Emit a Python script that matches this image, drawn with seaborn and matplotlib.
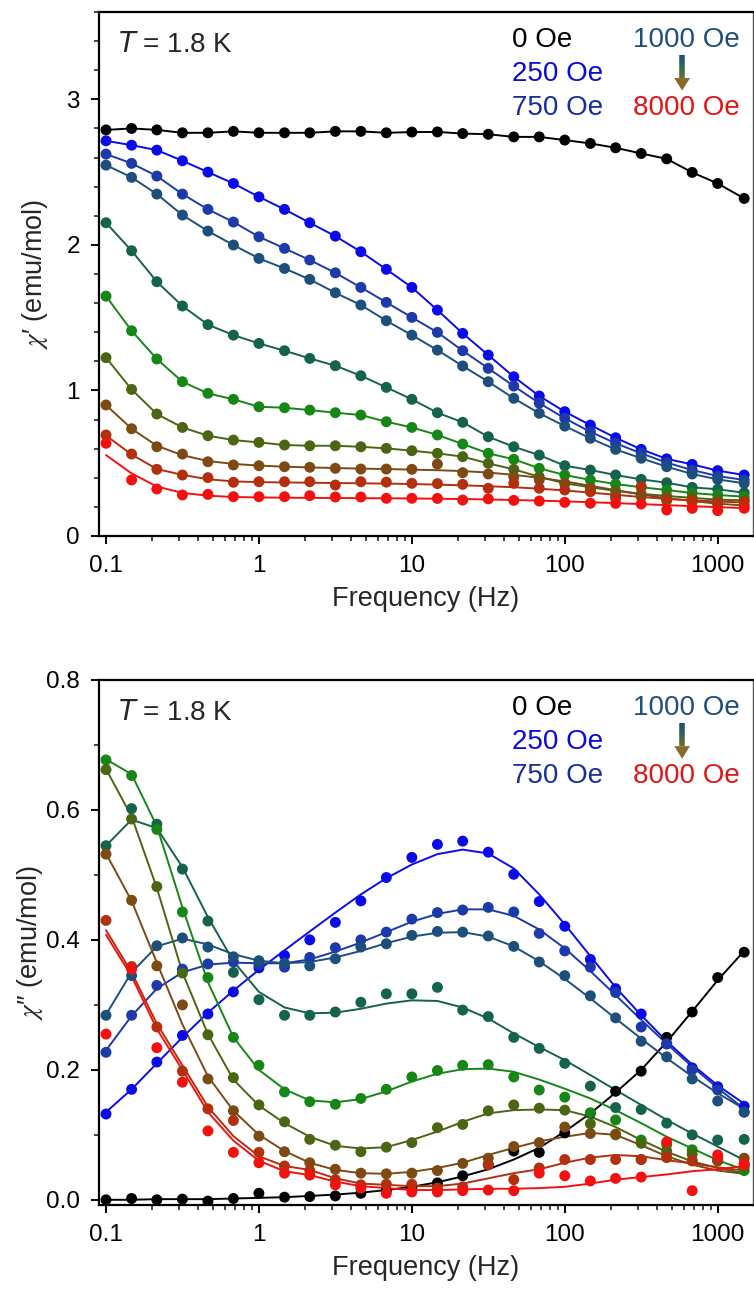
import numpy as np
import pandas as pd
import matplotlib
matplotlib.use("Agg")
import matplotlib.pyplot as plt
import seaborn as sns
from matplotlib.ticker import FixedLocator, MultipleLocator, LogLocator, NullFormatter, FixedFormatter, FormatStrFormatter
from matplotlib.collections import LineCollection
from matplotlib.patches import Polygon
from matplotlib.colors import LinearSegmentedColormap

# ---------------- data ----------------
freq = [0.1, 0.147, 0.215, 0.316, 0.464, 0.681, 1.0, 1.47, 2.15, 3.16, 4.64, 6.81, 10, 14.7,
        21.5, 31.6, 46.4, 68.1, 100, 147, 215, 316, 464, 681, 1000, 1490]

fields = ["0 Oe", "250 Oe", "750 Oe", "1000 Oe", "2000 Oe", "3000 Oe", "4000 Oe",
          "5000 Oe", "6000 Oe", "8000 Oe"]
colors = ["#000000", "#0b0bea", "#1c3aa9", "#1d4f7c", "#15624e", "#168716", "#4b6612",
          "#7d4a14", "#b3300f", "#f51010"]

# chi' (emu/mol) -- measured points
re_0 = [2.79, 2.80, 2.79, 2.77, 2.77, 2.78, 2.77, 2.77, 2.77, 2.78, 2.78, 2.77, 2.775, 2.776, 2.765, 2.76, 2.742, 2.742, 2.72, 2.697, 2.667, 2.628, 2.591, 2.498, 2.422, 2.319]
re_250 = [2.715, 2.685, 2.651, 2.578, 2.50, 2.422, 2.33, 2.244, 2.152, 2.06, 1.953, 1.832, 1.708, 1.552, 1.392, 1.243, 1.094, 0.962, 0.854, 0.762, 0.675, 0.595, 0.530, 0.492, 0.449, 0.419]
re_750 = [2.624, 2.56, 2.473, 2.349, 2.244, 2.157, 2.056, 1.976, 1.896, 1.808, 1.708, 1.605, 1.502, 1.399, 1.273, 1.152, 1.03, 0.913, 0.808, 0.716, 0.637, 0.568, 0.504, 0.453, 0.412, 0.385]
re_1000 = [2.548, 2.464, 2.349, 2.205, 2.095, 1.999, 1.907, 1.838, 1.763, 1.671, 1.587, 1.479, 1.38, 1.277, 1.168, 1.06, 0.946, 0.843, 0.755, 0.671, 0.595, 0.534, 0.476, 0.426, 0.389, 0.362]
re_2000 = [2.152, 1.96, 1.747, 1.58, 1.452, 1.38, 1.323, 1.273, 1.22, 1.17, 1.101, 1.021, 0.939, 0.847, 0.781, 0.682, 0.613, 0.556, 0.483, 0.453, 0.419, 0.389, 0.366, 0.334, 0.321, 0.297]
re_3000 = [1.648, 1.41, 1.216, 1.06, 0.98, 0.939, 0.888, 0.881, 0.865, 0.847, 0.831, 0.785, 0.746, 0.694, 0.632, 0.568, 0.527, 0.465, 0.419, 0.385, 0.357, 0.335, 0.316, 0.295, 0.282, 0.27]
re_4000 = [1.225, 1.007, 0.838, 0.746, 0.689, 0.659, 0.643, 0.625, 0.62, 0.62, 0.613, 0.602, 0.586, 0.568, 0.545, 0.499, 0.458, 0.407, 0.362, 0.335, 0.31, 0.29, 0.275, 0.262, 0.25, 0.245]
re_5000 = [0.90, 0.737, 0.613, 0.563, 0.51, 0.488, 0.483, 0.476, 0.472, 0.465, 0.46, 0.46, 0.458, 0.494, 0.435, 0.426, 0.407, 0.385, 0.362, 0.316, 0.282, 0.27, 0.245, 0.235, 0.22, 0.21]
re_6000 = [0.694, 0.563, 0.458, 0.419, 0.401, 0.369, 0.373, 0.373, 0.373, 0.35, 0.373, 0.37, 0.362, 0.36, 0.355, 0.328, 0.362, 0.328, 0.316, 0.304, 0.26, 0.339, 0.25, 0.247, 0.225, 0.236]
re_8000 = [0.637, 0.385, 0.323, 0.282, 0.286, 0.27, 0.27, 0.27, 0.277, 0.268, 0.268, 0.259, 0.259, 0.258, 0.247, 0.255, 0.245, 0.24, 0.231, 0.225, 0.224, 0.22, 0.179, 0.19, 0.174, 0.19]

# chi' fitted curves (where they differ from the points)
fit_re_5000 = [0.9, 0.737, 0.62, 0.555, 0.515, 0.495, 0.484, 0.476, 0.471, 0.467, 0.463, 0.46, 0.456, 0.452, 0.446, 0.436, 0.42, 0.4, 0.375, 0.345, 0.315, 0.285, 0.26, 0.24, 0.222, 0.21]
fit_re_6000 = [0.69, 0.56, 0.46, 0.42, 0.39, 0.375, 0.37, 0.368, 0.366, 0.364, 0.362, 0.36, 0.357, 0.353, 0.348, 0.342, 0.335, 0.325, 0.313, 0.298, 0.283, 0.268, 0.255, 0.245, 0.237, 0.23]
fit_re_8000 = [0.556, 0.43, 0.34, 0.296, 0.277, 0.268, 0.265, 0.263, 0.262, 0.261, 0.26, 0.259, 0.258, 0.256, 0.254, 0.251, 0.247, 0.243, 0.238, 0.232, 0.226, 0.219, 0.212, 0.205, 0.198, 0.192]

# chi'' (emu/mol) -- measured points
im_0 = [0.0, 0.002, 0.0, 0.001, -0.002, 0.002, 0.010, 0.004, 0.005, 0.006, 0.010, 0.014, 0.020, 0.026, 0.037, 0.054, 0.075, 0.073, 0.103, 0.133, 0.167, 0.198, 0.25, 0.289, 0.342, 0.381]
im_250 = [0.132, 0.170, 0.212, 0.253, 0.286, 0.320, 0.357, 0.376, 0.40, 0.427, 0.46, 0.496, 0.527, 0.547, 0.552, 0.535, 0.501, 0.459, 0.421, 0.370, 0.325, 0.286, 0.24, 0.203, 0.174, 0.144]
im_750 = [0.227, 0.284, 0.33, 0.355, 0.363, 0.366, 0.362, 0.358, 0.373, 0.388, 0.40, 0.412, 0.432, 0.442, 0.446, 0.45, 0.443, 0.41, 0.383, 0.358, 0.319, 0.266, 0.24, 0.20, 0.169, 0.135]
im_1000 = [0.284, 0.345, 0.391, 0.403, 0.389, 0.374, 0.368, 0.364, 0.36, 0.371, 0.389, 0.394, 0.407, 0.413, 0.412, 0.406, 0.39, 0.366, 0.345, 0.314, 0.28, 0.244, 0.22, 0.186, 0.152, 0.135]
im_2000 = [0.545, 0.602, 0.578, 0.509, 0.429, 0.35, 0.308, 0.284, 0.284, 0.289, 0.304, 0.317, 0.317, 0.327, 0.292, 0.282, 0.25, 0.233, 0.21, 0.175, 0.142, 0.139, 0.118, 0.10, 0.092, 0.093]
im_3000 = [0.677, 0.653, 0.57, 0.443, 0.342, 0.25, 0.207, 0.166, 0.151, 0.147, 0.156, 0.17, 0.189, 0.199, 0.207, 0.208, 0.189, 0.169, 0.158, 0.134, 0.123, 0.092, 0.085, 0.077, 0.062, 0.045]
im_4000 = [0.662, 0.586, 0.482, 0.349, 0.254, 0.188, 0.146, 0.12, 0.093, 0.084, 0.074, 0.081, 0.088, 0.111, 0.116, 0.137, 0.146, 0.141, 0.138, 0.117, 0.1, 0.087, 0.075, 0.07, 0.06, 0.05]
im_5000 = [0.532, 0.461, 0.36, 0.30, 0.186, 0.137, 0.098, 0.074, 0.057, 0.047, 0.041, 0.04, 0.041, 0.045, 0.056, 0.064, 0.082, 0.088, 0.112, 0.102, 0.101, 0.062, 0.065, 0.06, 0.06, 0.064]
im_6000 = [0.43, 0.359, 0.266, 0.198, 0.14, 0.122, 0.073, 0.052, 0.045, 0.031, 0.023, 0.024, 0.024, 0.018, 0.02, 0.054, 0.031, 0.049, 0.062, 0.062, 0.062, 0.062, 0.066, 0.06, 0.063, 0.056]
im_8000 = [0.255, 0.355, 0.234, 0.181, 0.106, 0.073, 0.057, 0.041, 0.038, 0.023, 0.018, 0.01, 0.012, 0.012, 0.014, 0.015, 0.014, 0.041, 0.037, 0.029, 0.033, 0.035, 0.089, 0.014, 0.069, 0.054]

# chi'' fitted curves
fit_im_0 = [0.0, 0.0, 0.001, 0.001, 0.001, 0.002, 0.003, 0.004, 0.006, 0.008, 0.011, 0.015, 0.020, 0.027, 0.036, 0.047, 0.062, 0.08, 0.105, 0.133, 0.165, 0.2, 0.243, 0.29, 0.338, 0.383]
fit_im_250 = [0.135, 0.17, 0.21, 0.25, 0.288, 0.322, 0.354, 0.384, 0.413, 0.442, 0.47, 0.495, 0.516, 0.532, 0.539, 0.533, 0.51, 0.47, 0.424, 0.375, 0.327, 0.284, 0.244, 0.208, 0.176, 0.148]
fit_im_750 = [0.23, 0.283, 0.325, 0.35, 0.362, 0.365, 0.364, 0.364, 0.37, 0.382, 0.396, 0.412, 0.428, 0.44, 0.447, 0.447, 0.437, 0.416, 0.387, 0.352, 0.315, 0.277, 0.24, 0.205, 0.172, 0.14]
fit_im_1000 = [0.285, 0.35, 0.39, 0.402, 0.393, 0.378, 0.368, 0.364, 0.366, 0.373, 0.383, 0.395, 0.405, 0.411, 0.412, 0.405, 0.39, 0.367, 0.34, 0.31, 0.279, 0.248, 0.218, 0.19, 0.164, 0.14]
fit_im_2000 = [0.545, 0.585, 0.572, 0.512, 0.435, 0.367, 0.32, 0.296, 0.287, 0.288, 0.294, 0.302, 0.307, 0.306, 0.296, 0.279, 0.256, 0.235, 0.215, 0.192, 0.169, 0.146, 0.123, 0.102, 0.082, 0.061]
fit_im_3000 = [0.678, 0.655, 0.575, 0.45, 0.335, 0.25, 0.2, 0.17, 0.153, 0.15, 0.155, 0.167, 0.182, 0.194, 0.201, 0.202, 0.197, 0.185, 0.171, 0.156, 0.138, 0.118, 0.097, 0.079, 0.061, 0.046]
fit_im_4000 = [0.663, 0.59, 0.48, 0.35, 0.255, 0.185, 0.145, 0.118, 0.097, 0.083, 0.079, 0.081, 0.092, 0.105, 0.12, 0.133, 0.138, 0.139, 0.138, 0.128, 0.112, 0.092, 0.074, 0.059, 0.049, 0.041]
fit_im_5000 = [0.533, 0.46, 0.365, 0.27, 0.19, 0.137, 0.1, 0.075, 0.057, 0.046, 0.041, 0.04, 0.043, 0.049, 0.057, 0.069, 0.08, 0.09, 0.097, 0.103, 0.1, 0.084, 0.067, 0.054, 0.045, 0.04]
fit_im_6000 = [0.415, 0.35, 0.271, 0.207, 0.143, 0.098, 0.067, 0.052, 0.046, 0.033, 0.025, 0.023, 0.021, 0.021, 0.025, 0.033, 0.041, 0.047, 0.057, 0.065, 0.069, 0.067, 0.061, 0.056, 0.05, 0.045]
fit_im_8000 = [0.408, 0.344, 0.263, 0.2, 0.135, 0.091, 0.06, 0.044, 0.038, 0.028, 0.021, 0.018, 0.015, 0.015, 0.016, 0.017, 0.017, 0.018, 0.02, 0.025, 0.031, 0.035, 0.039, 0.044, 0.047, 0.052]

xtick_vals = [0.1, 1, 10, 100, 1000]
xtick_labels = ["0.1", "1", "10", "100", "1000"]

re_pts = [re_0, re_250, re_750, re_1000, re_2000, re_3000, re_4000, re_5000, re_6000, re_8000]
re_fit = [re_0, re_250, re_750, re_1000, re_2000, re_3000, re_4000, fit_re_5000, fit_re_6000, fit_re_8000]
im_pts = [im_0, im_250, im_750, im_1000, im_2000, im_3000, im_4000, im_5000, im_6000, im_8000]
im_fit = [fit_im_0, fit_im_250, fit_im_750, fit_im_1000, fit_im_2000, fit_im_3000, fit_im_4000,
          fit_im_5000, fit_im_6000, fit_im_8000]


def long_frame(pts, fits):
    rows = []
    for name, p, q in zip(fields, pts, fits):
        for f, a, b in zip(freq, p, q):
            rows.append((name, f, a, b))
    return pd.DataFrame(rows, columns=["field", "freq", "val", "fit"])


df_re = long_frame(re_pts, re_fit)
df_im = long_frame(im_pts, im_fit)

# ---------------- style ----------------
sns.set_theme(style="ticks")
plt.rcParams["font.family"] = ["Liberation Sans", "DejaVu Sans"]
plt.rcParams["mathtext.fontset"] = "stix"
plt.rcParams["axes.linewidth"] = 1.6

palette = dict(zip(fields, colors))

W, H = 754, 1291
fig = plt.figure(figsize=(W / 100, H / 100), dpi=100)
ax1 = fig.add_axes([99.3 / W, 1 - 536 / H, 653.4 / W, 524 / H])
ax2 = fig.add_axes([99.3 / W, 1 - 1205 / H, 653.4 / W, 525 / H])

for ax, df in ((ax1, df_re), (ax2, df_im)):
    ax.set_xscale("log")
    sns.lineplot(data=df, x="freq", y="fit", hue="field", hue_order=fields, palette=palette,
                 estimator=None, sort=True, linewidth=1.4, legend=False, ax=ax, zorder=2)
    sns.scatterplot(data=df, x="freq", y="val", hue="field", hue_order=fields, palette=palette,
                    s=62, edgecolor="none", linewidth=0, legend=False, ax=ax, zorder=3)
    ax.set_xlim(0.0904, 1694)
    ax.xaxis.set_major_locator(FixedLocator(xtick_vals))
    ax.xaxis.set_major_formatter(FixedFormatter(xtick_labels))
    ax.xaxis.set_minor_locator(LogLocator(base=10, subs=np.arange(2, 10), numticks=20))
    ax.xaxis.set_minor_formatter(NullFormatter())
    ax.tick_params(which="major", direction="out", length=5.5, width=1.4, labelsize=17.5,
                   pad=8.5, top=False, right=False, colors="black")
    ax.tick_params(which="minor", direction="out", length=3.5, width=1.2, top=False, right=False)
    ax.set_xlabel("Frequency (Hz)", fontsize=19.5, labelpad=6)
    for sp in ax.spines.values():
        sp.set_color("black")
        sp.set_linewidth(1.6)
    ax.spines["right"].set_linewidth(1.0)
    ax.spines["right"].set_color("#555555")

ax1.set_ylim(0, 3.6)
ax1.yaxis.set_major_locator(MultipleLocator(1))
ax1.yaxis.set_minor_locator(MultipleLocator(0.2))
ax1.yaxis.set_major_formatter(FormatStrFormatter("%g"))
ax1.set_ylabel("$\\chi$\u2032 (emu/mol)", fontsize=19.5)
ax1.yaxis.set_label_coords(-0.075, 0.5)

ax2.set_ylim(-0.008, 0.8)
ax2.yaxis.set_major_locator(FixedLocator([0.0, 0.2, 0.4, 0.6, 0.8]))
ax2.yaxis.set_minor_locator(FixedLocator([0.1, 0.3, 0.5, 0.7]))
ax2.yaxis.set_major_formatter(FormatStrFormatter("%.1f"))
ax2.set_ylabel("$\\chi$\u2033 (emu/mol)", fontsize=19.5)
ax2.yaxis.set_label_coords(-0.083, 0.5)

# annotations
leg_fs = 20
arrow_cmap = LinearSegmentedColormap.from_list("arr", ["#1d4f7c", "#3d6a48", "#8a6a28"])
for ax in (ax1, ax2):
    ax.text(0.028, 0.937, r"$T$ = 1.8 K", transform=ax.transAxes, fontsize=leg_fs,
            ha="left", va="center", math_fontfamily="dejavusans")
    ax.text(0.631, 0.9466, "0 Oe", color="#000000", transform=ax.transAxes, fontsize=leg_fs,
            ha="left", va="center")
    ax.text(0.631, 0.8817, "250 Oe", color="#0b0bd6", transform=ax.transAxes, fontsize=leg_fs,
            ha="left", va="center")
    ax.text(0.631, 0.8168, "750 Oe", color="#1a2e9a", transform=ax.transAxes, fontsize=leg_fs,
            ha="left", va="center")
    ax.text(0.817, 0.9466, "1000 Oe", color="#1f4e79", transform=ax.transAxes, fontsize=leg_fs,
            ha="left", va="center")
    ax.text(0.817, 0.8168, "8000 Oe", color="#e01515", transform=ax.transAxes, fontsize=leg_fs,
            ha="left", va="center")
    # gradient arrow
    xa = 0.892
    y_top, y_neck, y_tip = 0.918, 0.874, 0.850
    ys = np.linspace(y_top, y_neck, 20)
    segs = [[(xa, ys[i]), (xa, ys[i + 1])] for i in range(len(ys) - 1)]
    lc = LineCollection(segs, colors=[arrow_cmap(0.85 * i / (len(segs))) for i in range(len(segs))],
                        linewidths=4.0, transform=ax.transAxes, capstyle="butt", zorder=4)
    ax.add_collection(lc)
    hw = 0.012
    head = Polygon([(xa - hw, y_neck), (xa + hw, y_neck), (xa, y_tip)], closed=True,
                   transform=ax.transAxes, facecolor=arrow_cmap(1.0), edgecolor="none", zorder=4)
    ax.add_patch(head)

fig.savefig("out.png", dpi=100)
